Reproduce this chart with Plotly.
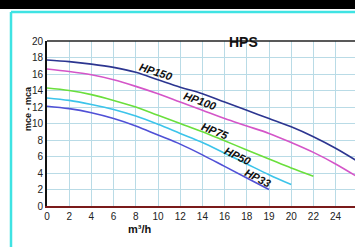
import plotly.graph_objects as go

# x positions are axis positions (the printed tick labels are listed separately)
x_tick_pos = [0, 2, 4, 6, 8, 10, 12, 14, 16, 18, 20, 22, 24, 26]
x_tick_text = ["0", "2", "4", "6", "8", "10", "12", "14", "16", "18", "19", "20", "22", "24"]
y_ticks = [0, 2, 4, 6, 8, 10, 12, 14, 16, 18, 20]

hp150_x = [0, 2, 4, 6, 8, 10, 12, 14, 16, 18, 20, 22, 24, 26, 28]
hp150_y = [17.7, 17.5, 17.2, 16.8, 16.2, 15.3, 14.4, 13.6, 12.6, 11.6, 10.6, 9.6, 8.4, 7.0, 5.4]

hp100_x = [0, 2, 4, 6, 8, 10, 12, 14, 16, 18, 20, 22, 24, 26, 28]
hp100_y = [16.6, 16.3, 15.9, 15.3, 14.5, 13.6, 12.6, 11.6, 10.6, 9.7, 8.8, 7.7, 6.5, 5.1, 3.5]

hp75_x = [0, 2, 4, 6, 8, 10, 12, 14, 16, 18, 20, 22, 24]
hp75_y = [14.3, 14.0, 13.5, 12.8, 12.0, 11.0, 10.0, 9.0, 7.9, 6.8, 5.7, 4.6, 3.6]

hp50_x = [0, 2, 4, 6, 8, 10, 12, 14, 16, 18, 20, 22]
hp50_y = [13.1, 12.8, 12.3, 11.7, 10.9, 9.9, 8.8, 7.7, 6.4, 5.1, 3.8, 2.6]

hp33_x = [0, 2, 4, 6, 8, 10, 12, 14, 16, 18, 20]
hp33_y = [12.1, 11.8, 11.3, 10.6, 9.7, 8.6, 7.5, 6.2, 4.8, 3.4, 2.0]

series = [
    ("HP150", hp150_x, hp150_y, "#2c3590", 9.9, 16.3, 18),
    ("HP100", hp100_x, hp100_y, "#d455c8", 13.8, 12.7, 20),
    ("HP75", hp75_x, hp75_y, "#6adf3c", 15.1, 9.1, 22),
    ("HP50", hp50_x, hp50_y, "#3cc4ea", 17.2, 6.1, 26),
    ("HP33", hp33_x, hp33_y, "#5050d6", 19.0, 3.4, 27),
]

fig = go.Figure()
for name, xs, ys, col, lx, ly, ang in series:
    fig.add_trace(go.Scatter(x=xs, y=ys, mode="lines", name=name,
                             line=dict(color=col, width=1.6, shape="spline"),
                             showlegend=False))
    fig.add_annotation(x=lx, y=ly, text="<b><i>" + name + "</i></b>", showarrow=False,
                       textangle=ang, font=dict(family="Liberation Sans", size=11, color="#111"))

# title
fig.add_annotation(xref="paper", yref="paper", x=(243 - 47) / 308, y=(206 - 32) / 165,
                   text="<b>HPS</b>", showarrow=False,
                   font=dict(family="Liberation Sans", size=14, color="#111"))
# axis titles
fig.add_annotation(xref="paper", yref="paper", x=(126 - 47) / 308, y=(206 - 237) / 165,
                   text="<b>m³/h</b>", showarrow=False,
                   font=dict(family="Liberation Sans", size=11, color="#111"))
fig.add_annotation(xref="paper", yref="paper", x=(21 - 47) / 308, y=(206 - 109) / 165,
                   text="<b>mce - mca</b>", showarrow=False, textangle=-90,
                   font=dict(family="Liberation Sans", size=9, color="#111"))

# frame decorations
fig.add_shape(type="rect", xref="paper", yref="paper",
              x0=-47 / 308, x1=1.05, y0=(206 - 9) / 165, y1=(206 + 2) / 165,
              fillcolor="black", line=dict(width=0), layer="above")
fig.add_shape(type="line", xref="paper", yref="paper",
              x0=(11 - 47) / 308, x1=1.05, y0=(206 - 12) / 165, y1=(206 - 12) / 165,
              line=dict(color="#3fe3e3", width=2.5))
fig.add_shape(type="line", xref="paper", yref="paper",
              x0=(11 - 47) / 308, x1=(11 - 47) / 308, y0=(206 - 12) / 165, y1=-50 / 165,
              line=dict(color="#3fe3e3", width=2.5))
# top border of plot
fig.add_shape(type="line", xref="paper", yref="paper", x0=0, x1=1, y0=1, y1=1,
              line=dict(color="#222", width=1.5))

fig.update_xaxes(range=[0, 308 / 11.1], tickvals=x_tick_pos, ticktext=x_tick_text,
                 showgrid=True, gridcolor="#b9dbe6", gridwidth=1,
                 showline=True, linecolor="#7a1a1a", linewidth=1.5,
                 ticks="", zeroline=False,
                 tickfont=dict(family="Liberation Sans", size=10, color="#222"))
fig.update_yaxes(range=[0, 20], tickvals=y_ticks,
                 showgrid=True, gridcolor="#b9dbe6", gridwidth=1,
                 showline=True, linecolor="#111", linewidth=2,
                 ticks="", zeroline=False,
                 tickfont=dict(family="Liberation Sans", size=10, color="#222"))

fig.update_layout(width=355, height=247, margin=dict(l=47, r=0, t=41, b=41),
                  paper_bgcolor="white", plot_bgcolor="white")
fig.update_xaxes(tickprefix="<b>", ticksuffix="</b>")
fig.update_yaxes(tickprefix="<b>", ticksuffix="</b>")

fig.write_html("out.html", config={"displayModeBar": False},
               post_script="document.body.style.margin='0';document.body.style.overflow='hidden';")
